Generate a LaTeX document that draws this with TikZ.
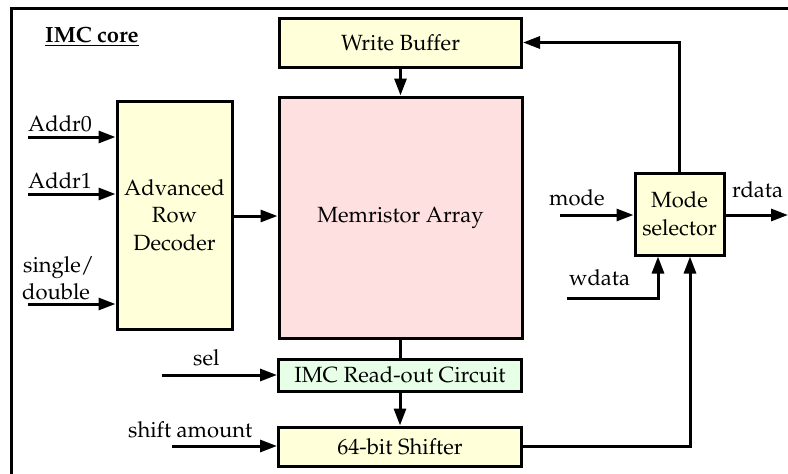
\documentclass[tikz,border=0pt]{standalone}
\usepackage[T1]{fontenc}
\usepackage{mathpazo}
\usetikzlibrary{arrows.meta}
\definecolor{byel}{HTML}{FFFFDA}
\definecolor{bpink}{HTML}{FFE0E0}
\definecolor{bgreen}{HTML}{E6FFE6}
\begin{document}
\begin{tikzpicture}[x=1pt,y=-1pt,
  font=\fontsize{22}{27.5}\selectfont,
  blk/.style={draw=black,line width=3pt,inner sep=0pt,align=center},
  wire/.style={line width=3pt,-{Triangle[length=17pt,width=12pt]}},
  plain/.style={line width=3pt},
  lbl/.style={inner sep=0pt,anchor=base west}]
\useasboundingbox (0,0) rectangle (788,474);
\draw[line width=3pt] (11,480) -- (11,8) -- (795,8);
\node[lbl] (title) at (45,42) {\textbf{\underline{IMC core}}};
\node[blk,fill=byel,minimum width=242pt,minimum height=49pt] (wb) at (400.5,42.5) {Write Buffer};
\node[blk,fill=bpink,minimum width=243pt,minimum height=241pt] (ma) at (400.5,217.5) {Memristor Array};
\node[blk,fill=byel,minimum width=115pt,minimum height=228pt] (dec) at (174.5,215) {Advanced\\Row\\Decoder};
\node[blk,fill=bgreen,minimum width=243pt,minimum height=32pt] (ro) at (400,375) {IMC Read-out Circuit};
\node[blk,fill=byel,minimum width=243pt,minimum height=39pt] (sh) at (400,446.5) {64-bit Shifter};
\node[blk,fill=byel,minimum width=89pt,minimum height=82pt] (ms) at (679.5,214) {Mode\\selector};
% labels
\node[lbl] (la0) at (28,131) {Addr0};
\node[lbl] (la1) at (28,188) {Addr1};
\node[lbl] (lsd1) at (23,272) {single/};
\node[lbl] (lsd2) at (22,299) {double};
\node[lbl] (lsel) at (193,365) {sel};
\node[lbl] (lsh) at (128,437) {shift amount};
\node[lbl] (lmode) at (549,205) {mode};
\node[lbl] (lrd) at (732,197) {rdata};
\node[lbl] (lwd) at (569,285) {wdata};
% free ends
\coordinate (ia0) at (28,137);
\coordinate (ia1) at (28,194);
\coordinate (isd) at (28,304);
\coordinate (isel) at (162,375);
\coordinate (ish) at (172,446);
\coordinate (imode) at (560,215);
\coordinate (ord) at (788,215);
\coordinate (iwd) at (567,298);
% connectors
\draw[wire] (ia0) -- (ia0 -| dec.west);
\draw[wire] (ia1) -- (ia1 -| dec.west);
\draw[wire] (isd) -- (isd -| dec.west);
\draw[wire] (dec.east |- 0,216) -- (ma.west |- 0,216);
\draw[wire] (wb.south) -- (ma.north);
\draw[plain] (ma.south) -- (ma.south |- ro.north);
\draw[wire] (ro.south) -- (sh.north);
\draw[wire] (isel) -- (ro.west);
\draw[wire] (ish) -- (ish -| sh.west);
\draw[wire] (imode) -- (imode -| ms.west);
\draw[wire] (ms.east |- ord) -- (ord);
\draw[wire] (ms.north) -- (ms.north |- wb.east) -- (wb.east);
\draw[wire] (iwd) -- (658,298) -- (658,0 |- ms.south);
\draw[wire] (sh.east |- ish) -- (690,446) -- (690,0 |- ms.south);
\end{tikzpicture}
\end{document}
